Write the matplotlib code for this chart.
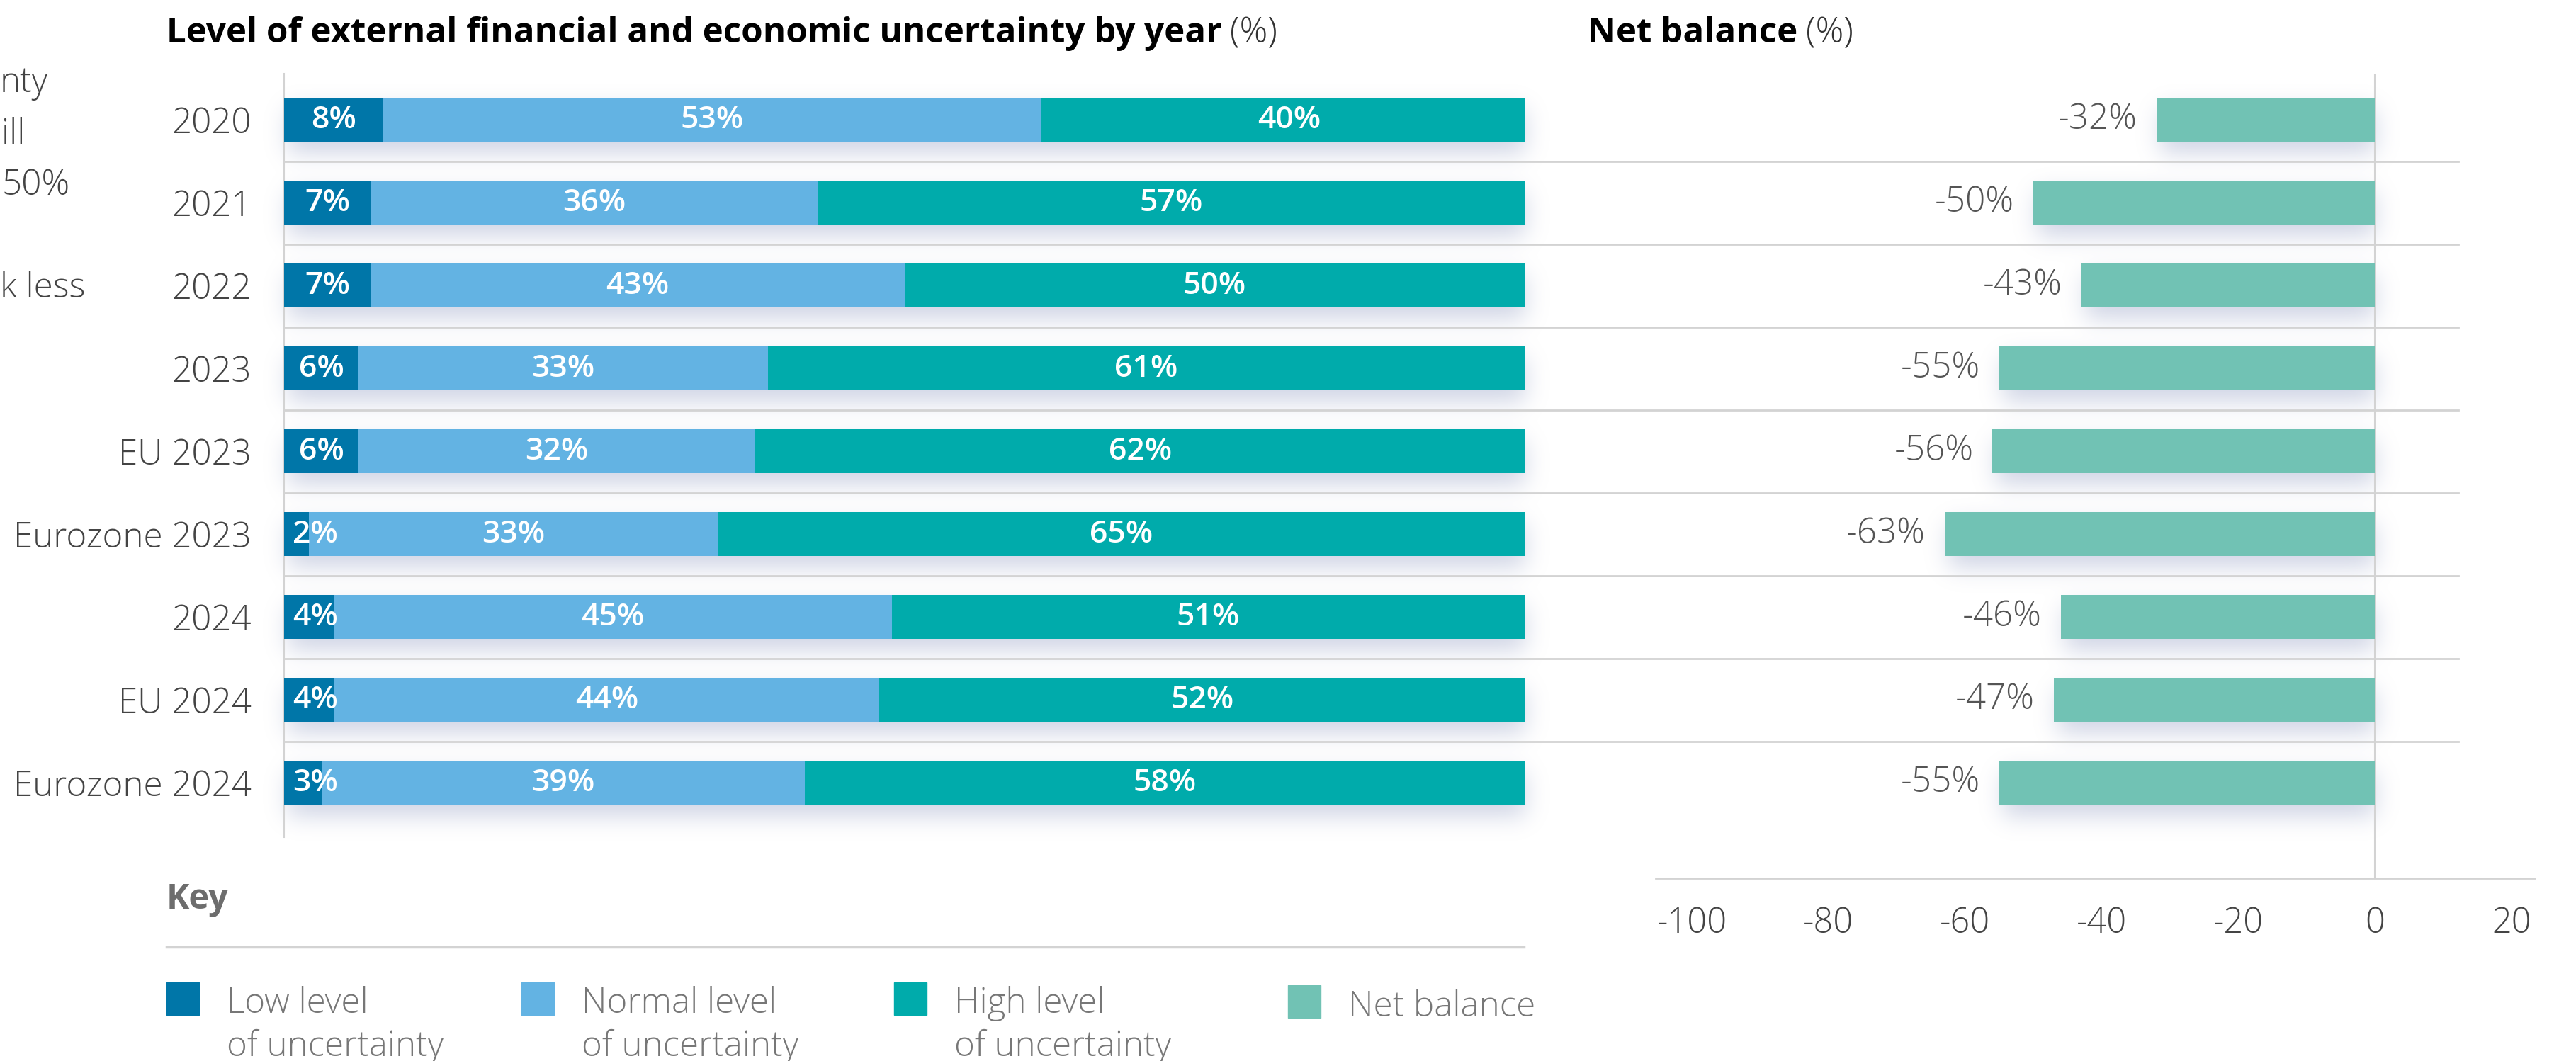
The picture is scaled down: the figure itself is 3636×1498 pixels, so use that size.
import numpy as np
import matplotlib.pyplot as plt
from matplotlib import transforms
from matplotlib.lines import Line2D
from matplotlib.patches import Rectangle

plt.rcParams['font.family'] = ['Open Sans', 'DejaVu Sans']
plt.rcParams['axes.unicode_minus'] = False

categories = ['2020', '2021', '2022', '2023', 'EU 2023', 'Eurozone 2023',
              '2024', 'EU 2024', 'Eurozone 2024']
low_level = [8, 7, 7, 6, 6, 2, 4, 4, 3]
normal_level = [53, 36, 43, 33, 32, 33, 45, 44, 39]
high_level = [40, 57, 50, 61, 62, 65, 51, 52, 58]
net_balance = [-32, -50, -43, -55, -56, -63, -46, -47, -55]
net_ticks = [-100, -80, -60, -40, -20, 0, 20]

key_labels = ['Low level\nof uncertainty', 'Normal level\nof uncertainty',
              'High level\nof uncertainty', 'Net balance']
colors = ['#0076a8', '#63b3e3', '#00abab']
net_color = '#71c2b4'
grid_color = '#d3d3d3'
text_color = '#444444'

W, H = 3636, 1498
fig = plt.figure(figsize=(W / 100, H / 100), dpi=100)


def fx(px):
    return px / W


def fy(py):
    return 1 - py / H


# left panel: stacked shares, 0-100%
ax = fig.add_axes([fx(401), fy(1182), 1751 / W, (1182 - 104) / H])
ax.set_facecolor('none')
y = np.arange(len(categories))
left = np.zeros(len(categories))
row_bars = [[] for _ in categories]
for vals, c in zip([low_level, normal_level, high_level], colors):
    bars = ax.barh(y, vals, left=left, height=0.53, color=c, zorder=3)
    for i, b in enumerate(bars):
        row_bars[i].append(b)
    for yi, l, v in zip(y, left, vals):
        ax.text(max(l + v / 2, 2.5), yi, f'{v}%', ha='center', va='center',
                color='white', fontsize=32, fontweight='semibold', zorder=4)
    left += np.array(vals)

ax.set_xlim(0, 100)
ax.set_ylim(8.658, -0.556)
ax.set_xticks([])
ax.set_yticks(y)
ax.set_yticklabels(categories, fontsize=35.5, fontweight='light', color=text_color)
ax.tick_params(axis='y', length=0, pad=33)
for s in ['top', 'right', 'bottom']:
    ax.spines[s].set_visible(False)
ax.spines['left'].set_color(grid_color)
ax.spines['left'].set_linewidth(1.5)

# right panel: net balance
ax2 = fig.add_axes([fx(2337), fy(1240), 1241 / W, (1240 - 104) / H])
ax2.set_facecolor('none')
nb = ax2.barh(y, net_balance, height=0.53, color=net_color, zorder=3)
for yi, v in zip(y, net_balance):
    ax2.annotate(f'{v}%', (v, yi), xytext=(-27, 0), textcoords='offset pixels',
                 ha='right', va='center', fontsize=35.5, fontweight='light',
                 color='#555555')
ax2.axvline(0, color=grid_color, lw=1.5, zorder=2)
ax2.set_xlim(-105.3, 23.4)
ax2.set_ylim(9.154, -0.556)
ax2.set_yticks([])
ax2.set_xticks(net_ticks)
ax2.set_xticklabels([str(t) for t in net_ticks], fontsize=35,
                    fontweight='light', color=text_color)
ax2.tick_params(axis='x', length=0, pad=28)
for s in ['top', 'right', 'left']:
    ax2.spines[s].set_visible(False)
ax2.spines['bottom'].set_color(grid_color)
ax2.spines['bottom'].set_linewidth(2)

# row separators running across both panels
sep_tf = transforms.blended_transform_factory(fig.transFigure, ax.transData)
for i in range(len(categories) - 1):
    fig.add_artist(Line2D([fx(401), fx(3470)], [i + 0.5, i + 0.5],
                          transform=sep_tf, color=grid_color, lw=2, zorder=1))

# soft drop shadow under every bar
mask = np.zeros((H, W))
ax_box = ax.get_window_extent()
shadow_boxes = []
for bars in row_bars:
    x0 = min(b.get_window_extent().x0 for b in bars)
    x1 = min(max(b.get_window_extent().x1 for b in bars), ax_box.x1)
    bb = bars[0].get_window_extent()
    shadow_boxes.append((x0, x1, bb.y0, bb.y1))
for b in nb:
    bb = b.get_window_extent()
    shadow_boxes.append((bb.x0, bb.x1, bb.y0, bb.y1))
drop = 16
for x0, x1, y0, y1 in shadow_boxes:
    r0 = int(round(H - y1)) + drop
    r1 = int(round(H - y0)) + drop
    mask[r0:r1, int(round(x0)) + 6:int(round(x1))] = 1.0
sigma = 16
k = np.exp(-0.5 * (np.arange(-3 * sigma, 3 * sigma + 1) / sigma) ** 2)
k /= k.sum()
mask = np.apply_along_axis(lambda r: np.convolve(r, k, mode='same'), 1, mask)
mask = np.apply_along_axis(lambda c: np.convolve(c, k, mode='same'), 0, mask)
shadow = np.zeros((H, W, 4))
shadow[..., 0] = 0.52
shadow[..., 1] = 0.57
shadow[..., 2] = 0.74
shadow[..., 3] = np.clip(mask * 0.38, 0, 1)
fig.figimage(shadow, xo=0, yo=0, origin='upper', zorder=-1)

# headings
renderer = fig.canvas.get_renderer()
t1 = fig.text(fx(235), fy(60), 'Level of external financial and economic uncertainty by year',
              fontsize=35.5, fontweight='bold', color='black', va='baseline')
e1 = t1.get_window_extent(renderer)
fig.text((e1.x1 + 12) / W, fy(60), '(%)', fontsize=35.5, color='#333333',
         fontweight='light', va='baseline')
t2 = fig.text(fx(2241), fy(60), 'Net balance', fontsize=35.5, fontweight='bold',
              color='black', va='baseline')
e2 = t2.get_window_extent(renderer)
fig.text((e2.x1 + 12) / W, fy(60), '(%)', fontsize=35.5, color='#333333',
         fontweight='light', va='baseline')

# text from the neighbouring panel, cut off at the edge
for s, xp, yp in [('nty', 0, 130), ('ill', 2, 203), ('50%', 3, 275), ('k less', 0, 420)]:
    fig.text(fx(xp), fy(yp), s, fontsize=35.5, fontweight='light',
             color=text_color, va='baseline')

# key
fig.text(fx(235), fy(1283), 'Key', fontsize=35, fontweight='bold',
         color='#6d6d6d', va='baseline')
fig.add_artist(Line2D([fx(235), fx(2151)], [fy(1337), fy(1337)],
                      transform=fig.transFigure, color=grid_color, lw=2.5))
key_x = [235, 736, 1262, 1818]
key_colors = colors + [net_color]
for xp, lab, c in zip(key_x, key_labels, key_colors):
    top = 1387 if '\n' in lab else 1391
    fig.add_artist(Rectangle((fx(xp), fy(top + 46)), 46 / W, 46 / H,
                             transform=fig.transFigure, color=c))
    lines = lab.split('\n')
    base = 1430 if len(lines) > 1 else 1435
    for j, ln in enumerate(lines):
        fig.text(fx(xp + 85), fy(base + 61 * j), ln, fontsize=35.5,
                 fontweight='light', color='#777777', va='baseline')

fig.savefig('out.png', dpi=100, facecolor='white')
